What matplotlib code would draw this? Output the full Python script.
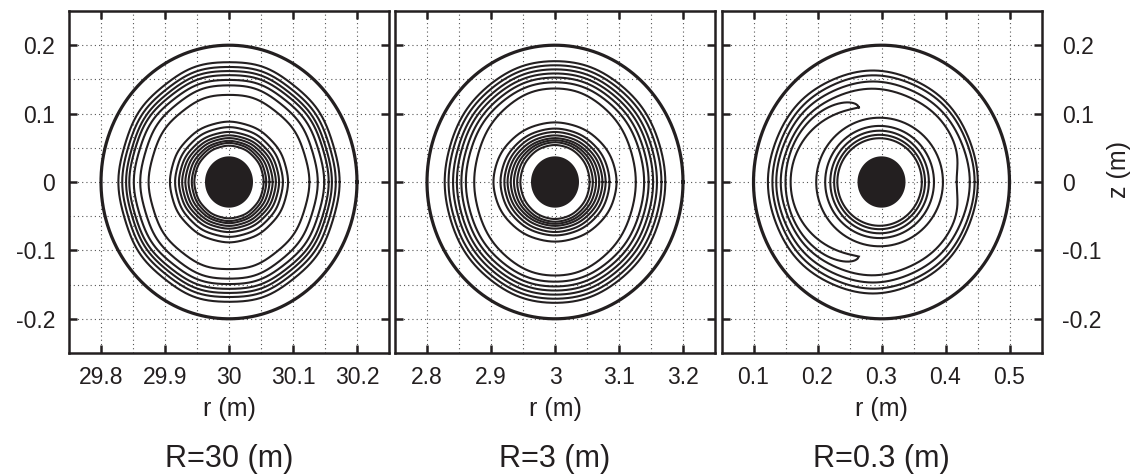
import numpy as np
import matplotlib
matplotlib.use("Agg")
import matplotlib.pyplot as plt

plt.rcParams["font.family"] = ["Liberation Sans", "DejaVu Sans"]
plt.rcParams["axes.unicode_minus"] = False

INK = "#231f20"

# ---- panel definitions -------------------------------------------------
major_radius = [30.0, 3.0, 0.3]
panel_titles = ["R=30 (m)", "R=3 (m)", "R=0.3 (m)"]
xtick_labels = [["29.8", "29.9", "30", "30.1", "30.2"],
                ["2.8", "2.9", "3", "3.1", "3.2"],
                ["0.1", "0.2", "0.3", "0.4", "0.5"]]
tick_offsets = [-0.2, -0.1, 0.0, 0.1, 0.2]
ytick_values = [-0.2, -0.1, 0.0, 0.1, 0.2]
ytick_labels = ["-0.2", "-0.1", "0", "0.1", "0.2"]

wall_radius = 0.2      # conducting wall
core_radius = 0.0375   # filled central region

# R = 30 m : contour radii (horizontal / vertical half-widths)
p1_inner_h = [0.054, 0.058, 0.063, 0.068, 0.073, 0.078, 0.084, 0.092]
p1_inner_v = [0.053, 0.057, 0.060, 0.064, 0.068, 0.073, 0.080, 0.088]
p1_outer_h = [0.125, 0.138, 0.148, 0.155, 0.160, 0.166, 0.172]
p1_outer_v = [0.128, 0.142, 0.150, 0.157, 0.163, 0.169, 0.176]

# R = 3 m
p2_inner_h = [0.054, 0.059, 0.064, 0.069, 0.074, 0.079, 0.085, 0.096]
p2_inner_v = [0.054, 0.058, 0.061, 0.064, 0.068, 0.073, 0.078, 0.087]
p2_outer_h = [0.126, 0.139, 0.146, 0.153, 0.159, 0.166, 0.172]
p2_outer_v = [0.137, 0.146, 0.153, 0.159, 0.165, 0.171, 0.177]

# R = 0.3 m
p3_inner_h = [0.066, 0.071, 0.077, 0.085, 0.099]
p3_inner_v = [0.064, 0.069, 0.075, 0.082, 0.094]
p3_inner_shift = -0.003
p3_outer_left = [0.177, 0.170, 0.164, 0.157]
p3_outer_right = [0.150, 0.145, 0.1375, 0.128]
p3_outer_top = [0.1625, 0.1555, 0.1465, 0.136]
p3_outer_dent = [0.0, 0.0, 0.0, 0.011]      # inward kink on the low-field side
p3_crescent_tip_angle = 108.0               # degrees
p3_crescent_tip_r = 0.1146
p3_crescent_outer_mid = 0.150
p3_crescent_inner_mid = 0.142

theta = np.linspace(0.0, 2.0 * np.pi, 1441)


def ring(ax, x0, a, b, ripple=0.0, modes=10, dent=0.0, lw=1.5):
    """Closed flux contour: ellipse with optional ripple and outboard kink."""
    scale = 1.0 + ripple * np.cos(modes * theta)
    ang = np.angle(np.exp(1j * theta))
    notch = dent * np.exp(-(ang / 0.28) ** 2)
    x = x0 + (a * scale) * np.cos(theta) - notch * np.cos(theta)
    z = (b * scale) * np.sin(theta) - notch * np.sin(theta)
    ax.plot(x, z, color=INK, lw=lw, solid_joinstyle="round")


def crescent(ax, x0):
    t0 = np.deg2rad(p3_crescent_tip_angle)
    t = np.linspace(t0, 2.0 * np.pi - t0, 400)
    s = np.sin(np.pi * (t - t0) / (2.0 * np.pi - 2.0 * t0))
    r_out = p3_crescent_tip_r + (p3_crescent_outer_mid - p3_crescent_tip_r) * s ** 0.5
    r_in = p3_crescent_tip_r + (p3_crescent_inner_mid - p3_crescent_tip_r) * s ** 1.3
    r = np.concatenate([r_out, r_in[::-1]])
    tt = np.concatenate([t, t[::-1]])
    ax.plot(np.append(x0 + r * np.cos(tt), x0 + r[0] * np.cos(tt[0])),
            np.append(r * np.sin(tt), r[0] * np.sin(tt[0])),
            color=INK, lw=1.5, solid_joinstyle="miter")


fig = plt.figure(figsize=(11.41, 4.75), dpi=100)
W, H = 1141.0, 475.0
lefts = [69.0, 395.0, 721.5]
ax_w, ax_top, ax_bot = 320.0, 11.0, 353.0

for i, R in enumerate(major_radius):
    ax = fig.add_axes([lefts[i] / W, 1 - ax_bot / H, ax_w / W, (ax_bot - ax_top) / H])
    ax.set_xlim(R - 0.25, R + 0.25)
    ax.set_ylim(-0.25, 0.25)

    ax.set_xticks([R + d for d in tick_offsets])
    ax.set_xticklabels(xtick_labels[i])
    ax.set_yticks(ytick_values)
    ax.set_yticklabels(ytick_labels)
    half = [-0.15, -0.05, 0.05, 0.15]
    ax.set_xticks([R + d for d in half], minor=True)
    ax.set_yticks(half, minor=True)

    ax.grid(which="both", linestyle=(0, (1, 2.8)), linewidth=0.8, color="#555555")
    ax.set_axisbelow(True)
    ax.tick_params(which="major", direction="in", length=6, width=1.8,
                   top=True, right=True, color=INK, labelsize=16.5, labelcolor=INK)
    ax.tick_params(which="minor", length=0)
    ax.tick_params(axis="x", pad=9)
    if i == 0:
        ax.tick_params(axis="y", labelleft=True, labelright=False, pad=10)
    elif i == 1:
        ax.tick_params(axis="y", labelleft=False, labelright=False)
    else:
        ax.tick_params(axis="y", labelleft=False, labelright=True, pad=15)
    for sp in ax.spines.values():
        sp.set_linewidth(1.8)
        sp.set_color(INK)

    # wall and core
    ring(ax, R, wall_radius, wall_radius, lw=2.3)
    ax.fill(R + core_radius * np.cos(theta), core_radius * np.sin(theta),
            color=INK, lw=0)

    if i == 0:
        for a, b in zip(p1_inner_h, p1_inner_v):
            ring(ax, R, a, b, ripple=0.003, modes=12)
        for a, b in zip(p1_outer_h, p1_outer_v):
            ring(ax, R, a, b, ripple=0.005, modes=10)
    elif i == 1:
        for a, b in zip(p2_inner_h, p2_inner_v):
            ring(ax, R, a, b, ripple=0.0015, modes=12)
        for a, b in zip(p2_outer_h, p2_outer_v):
            ring(ax, R, a, b, ripple=0.002, modes=10)
    else:
        for a, b in zip(p3_inner_h, p3_inner_v):
            ring(ax, R + p3_inner_shift, a, b)
        for lf, rt, tp, dn in zip(p3_outer_left, p3_outer_right, p3_outer_top, p3_outer_dent):
            a = 0.5 * (lf + rt)
            ring(ax, R + 0.5 * (rt - lf), a, tp, ripple=0.003, modes=8, dent=dn)
        crescent(ax, R)

    cx = (lefts[i] + ax_w / 2) / W
    fig.text(cx, 1 - 409 / H, "r (m)", ha="center", va="center", fontsize=18, color=INK)
    fig.text(cx, 1 - 459 / H, panel_titles[i], ha="center", va="center",
             fontsize=22, color=INK)

fig.text(1119 / W, 1 - 169 / H, "z (m)", rotation=90, ha="center", va="center",
         fontsize=18, color=INK)

fig.savefig("out.png", dpi=100)
